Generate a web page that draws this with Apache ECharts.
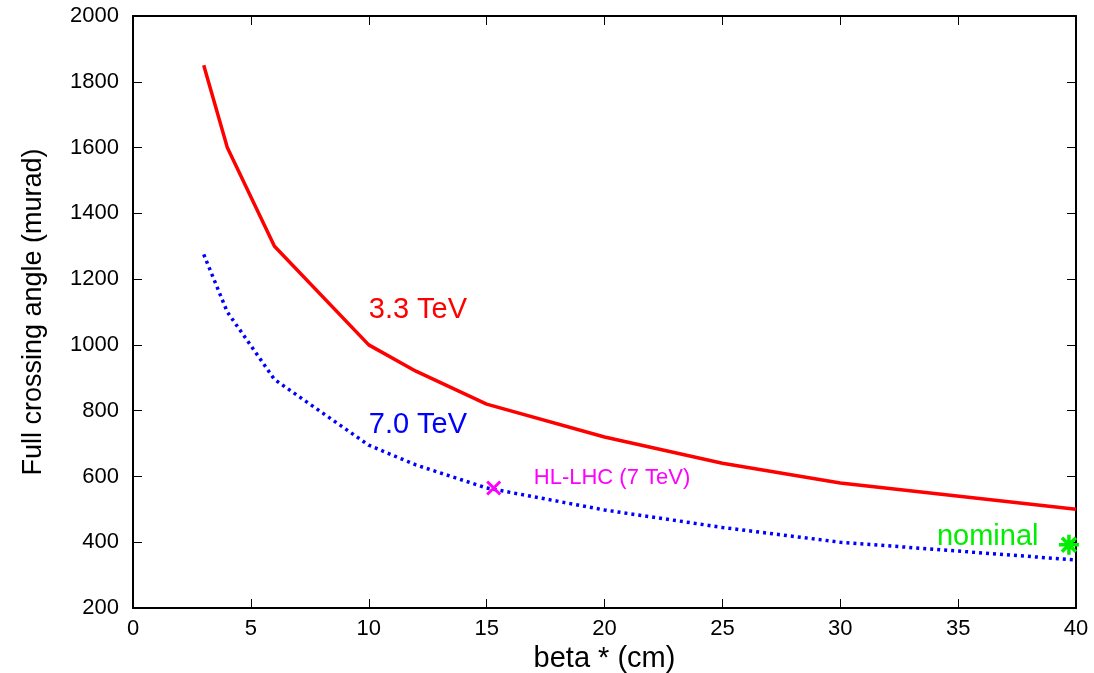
<!DOCTYPE html>
<html>
<head>
<meta charset="utf-8">
<script src="https://cdn.jsdelivr.net/npm/echarts@6/dist/echarts.min.js"></script>
<style>
  html, body { margin: 0; padding: 0; background: #fff; }
  #chart { width: 1094px; height: 673px; }
</style>
</head>
<body>
<div id="chart"></div>
<script>
// beta* values (cm) at which the crossing angle was evaluated
const betaStar = [3, 4, 6, 10, 12, 15, 20, 25, 30, 40];
// full crossing angle (murad) for 3.3 TeV beams
const angle33TeV = [1850, 1600, 1300, 1000, 920, 820, 720, 640, 580, 500];
// full crossing angle (murad) for 7.0 TeV beams
const angle70TeV = [1275, 1100, 895, 695, 635, 565, 498, 445, 400, 346];
// operating points
const hlLhcPoint = [15.3, 565];
const nominalPoint = [39.7, 392];

const xTicks = { min: 0, max: 40, interval: 5 };
const yTicks = { min: 200, max: 2000, interval: 200 };

const FONT = '"Liberation Sans", Arial, Helvetica, sans-serif';

const pairs = (xs, ys) => xs.map((x, i) => [x, ys[i]]);

// text annotation: drawn as an invisible point whose label starts at the anchor
function note(text, at, color, size) {
  return {
    type: 'scatter',
    symbolSize: 0,
    silent: true,
    data: [at],
    itemStyle: { opacity: 1 },
    label: {
      show: true,
      position: 'right',
      distance: 0,
      formatter: text,
      color: color,
      opacity: 1,
      fontSize: size,
      fontFamily: FONT
    },
    z: 5
  };
}

const chart = echarts.init(document.getElementById('chart'), null, { renderer: 'canvas' });

const frameLine = { show: true, onZero: false, lineStyle: { color: '#000', width: 2 } };
const innerTick = { show: true, inside: true, length: 9, lineStyle: { color: '#000', width: 1 } };
const plain = v => String(v);

chart.setOption({
  animation: false,
  backgroundColor: '#fff',
  grid: { left: 133, right: 18, top: 16, bottom: 65, containLabel: false, outerBoundsMode: 'none' },
  xAxis: [
    {
      type: 'value', position: 'bottom', ...xTicks,
      name: 'beta * (cm)', nameLocation: 'middle', nameGap: 32,
      nameTextStyle: { fontSize: 29, color: '#000', fontFamily: FONT },
      axisLine: frameLine, axisTick: innerTick,
      axisLabel: { color: '#000', fontSize: 22, margin: 10, fontFamily: FONT, formatter: plain },
      splitLine: { show: false }
    },
    {
      type: 'value', position: 'top', ...xTicks,
      axisLine: frameLine, axisTick: innerTick,
      axisLabel: { show: false }, splitLine: { show: false }
    }
  ],
  yAxis: [
    {
      type: 'value', position: 'left', ...yTicks,
      name: 'Full crossing angle (murad)', nameLocation: 'middle', nameGap: 86,
      nameTextStyle: { fontSize: 27, color: '#000', fontFamily: FONT },
      axisLine: frameLine, axisTick: innerTick,
      axisLabel: { color: '#000', fontSize: 22, margin: 14, fontFamily: FONT, formatter: plain },
      splitLine: { show: false }
    },
    {
      type: 'value', position: 'right', ...yTicks,
      axisLine: frameLine, axisTick: innerTick,
      axisLabel: { show: false }, splitLine: { show: false }
    }
  ],
  series: [
    {
      name: '3.3 TeV', type: 'line', data: pairs(betaStar, angle33TeV),
      showSymbol: false, symbol: 'none',
      lineStyle: { color: '#ff0000', width: 3.5 }, z: 3
    },
    {
      name: '7.0 TeV', type: 'line', data: pairs(betaStar, angle70TeV),
      showSymbol: false, symbol: 'none',
      lineStyle: { color: '#0000ff', width: 3.5, type: [3, 4] }, z: 3
    },
    {
      name: 'HL-LHC (7 TeV)', type: 'scatter', data: [hlLhcPoint],
      symbol: 'path://M0,0L10,10M10,0L0,10', symbolSize: [13, 13],
      itemStyle: { color: 'transparent', borderColor: '#ff00ff', borderWidth: 3, opacity: 1 }, z: 4
    },
    {
      name: 'nominal', type: 'scatter', data: [nominalPoint],
      symbol: 'path://M5,0L5,10M0,5L10,5M1.5,1.5L8.5,8.5M8.5,1.5L1.5,8.5', symbolSize: [20, 20],
      itemStyle: { color: 'transparent', borderColor: '#00ee00', borderWidth: 3.5, opacity: 1 }, z: 4
    },
    note('3.3 TeV', [10.0, 1105], '#ff0000', 29),
    note('7.0 TeV', [10.0, 755], '#0000ff', 29),
    note('HL-LHC (7 TeV)', [17.0, 595], '#ff00ff', 22),
    note('nominal', [34.1, 416], '#00ee00', 29)
  ]
});
</script>
</body>
</html>
